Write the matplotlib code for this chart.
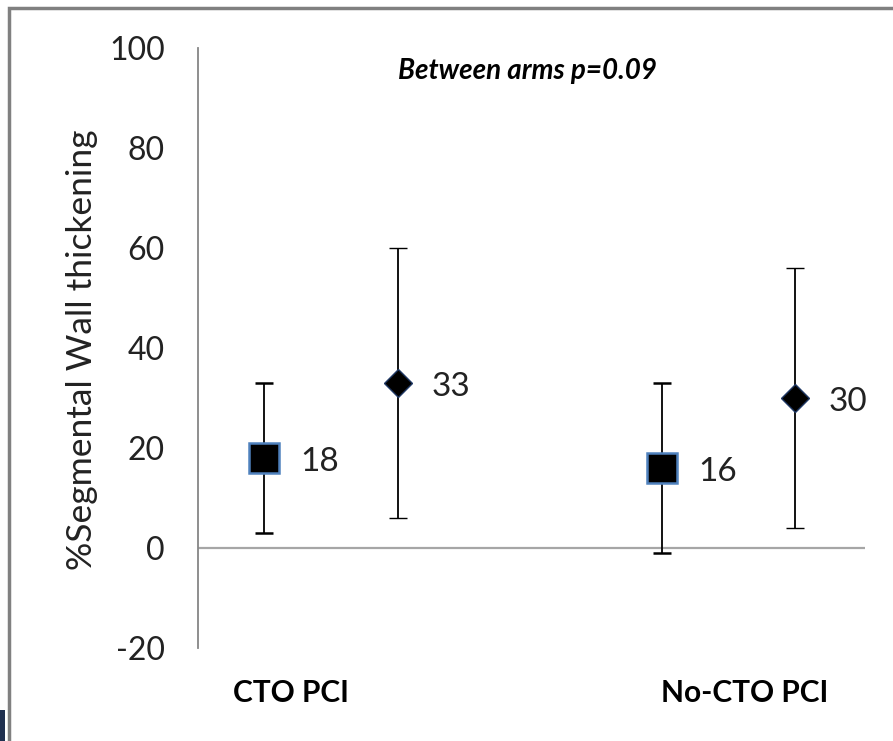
import matplotlib
matplotlib.use("Agg")
import matplotlib.pyplot as plt
from matplotlib.patches import Rectangle

plt.rcParams["font.family"] = ["Lato", "DejaVu Sans"]

groups = ["CTO PCI", "No-CTO PCI"]
baseline_mean = [18, 16]
baseline_lo = [3, -1]
baseline_hi = [33, 33]
followup_mean = [33, 30]
followup_lo = [6, 4]
followup_hi = [60, 56]
yticks = [-20, 0, 20, 40, 60, 80, 100]
note = "Between arms p=0.09"

fig = plt.figure(figsize=(8.93, 7.41), dpi=100)
ax = fig.add_axes([198 / 893, 1 - 648 / 741, (865 - 198) / 893, 600 / 741])

centers = [0, 1]
off = 0.168
xb = [c - off for c in centers]
xf = [c + off for c in centers]

ax.axhline(0, color="#a6a6a6", lw=1.6, zorder=1)

ax.errorbar(xb, baseline_mean,
            yerr=[[m - l for m, l in zip(baseline_mean, baseline_lo)],
                  [h - m for m, h in zip(baseline_mean, baseline_hi)]],
            fmt="s", color="black", ecolor="black", elinewidth=1.3, capsize=6.8,
            capthick=1.3, markersize=21, markerfacecolor="black",
            markeredgecolor="#4f81bd", markeredgewidth=1.8, zorder=3)
ax.errorbar(xf, followup_mean,
            yerr=[[m - l for m, l in zip(followup_mean, followup_lo)],
                  [h - m for m, h in zip(followup_mean, followup_hi)]],
            fmt="D", color="black", ecolor="black", elinewidth=1.3, capsize=6.8,
            capthick=1.3, markersize=14.5, markerfacecolor="black",
            markeredgecolor="#1f3864", markeredgewidth=1.0, zorder=3)

# value labels sit a touch below the marker centre, as in the original
for x, v in zip(xb, baseline_mean):
    ax.annotate(str(v), (x, v), xytext=(26, -3), textcoords="offset points",
                va="center", ha="left", fontsize=24, color="#222222")
for x, v in zip(xf, followup_mean):
    ax.annotate(str(v), (x, v), xytext=(24, -3), textcoords="offset points",
                va="center", ha="left", fontsize=24, color="#222222")

ax.set_xlim(-0.335, 1.343)
ax.set_ylim(-20, 100)
ax.set_yticks(yticks)
ax.set_yticklabels([str(t) for t in yticks], fontsize=23, color="#222222")
ax.tick_params(axis="y", length=0, pad=24)
ax.set_xticks([])
for s in ["top", "right", "bottom"]:
    ax.spines[s].set_visible(False)
ax.spines["left"].set_color("#868686")
ax.spines["left"].set_linewidth(1.3)
ax.set_ylabel("%Segmental Wall thickening", fontsize=25.5, color="#222222", va="center")
ax.yaxis.set_label_coords(-0.174, 0.497)

ax.text(0.495, 95.5, note, fontsize=20, fontweight="bold", fontstyle="italic",
        ha="center", va="center")

label_x = [-0.10, 1.04]
for x, g in zip(label_x, groups):
    ax.text(x, -29, g, fontsize=21.5, fontweight="bold", ha="center", va="center",
            clip_on=False)

fig.patches.append(Rectangle((9 / 893, -0.1), 1.2, 1 - 8 / 741 + 0.1,
                             transform=fig.transFigure, fill=False,
                             edgecolor="#808080", lw=2.5))
fig.patches.append(Rectangle((0, 0), 5 / 893, 31 / 741, transform=fig.transFigure,
                             facecolor="#1f2f4f", edgecolor="none"))

fig.savefig("out.png", dpi=100)
